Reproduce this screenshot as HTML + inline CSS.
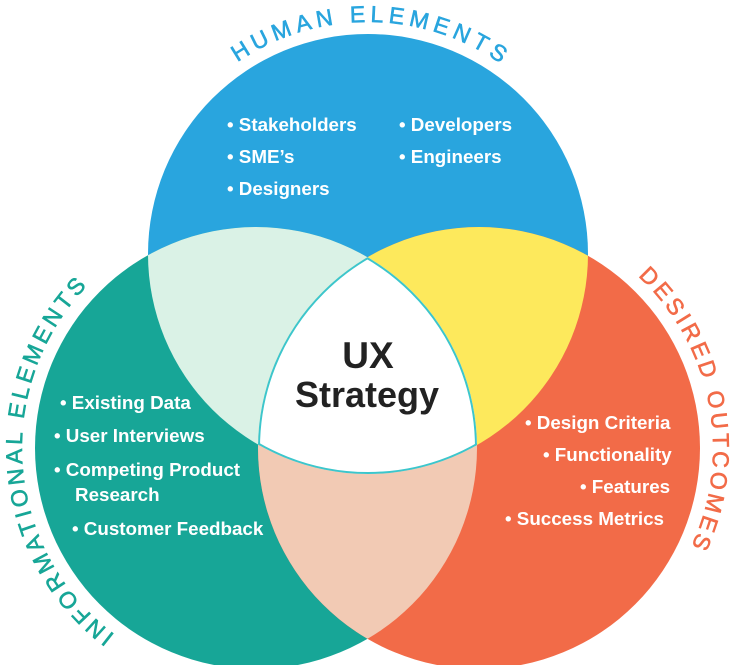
<!DOCTYPE html>
<html><head><meta charset="utf-8"><style>
html,body{margin:0;padding:0;background:#fff;}
svg{display:block;}
.b{font-family:"Liberation Sans",sans-serif;font-weight:bold;font-size:18.8px;fill:#fff;}
.arc{font-family:"Liberation Sans",sans-serif;font-size:23px;letter-spacing:5px;stroke-width:0.6px;}
</style></head><body>
<svg width="735" height="665" viewBox="0 0 735 665" xmlns="http://www.w3.org/2000/svg">
<defs>
<clipPath id="cT"><circle cx="368" cy="254" r="220"/></clipPath>
<clipPath id="cL"><circle cx="256" cy="448" r="221"/></clipPath>
<clipPath id="cR"><circle cx="479" cy="448" r="221"/></clipPath>
<path id="pT" d="M136,254 A232,232 0 0 1 600,254"/>
<path id="pL" d="M256,682 A234,234 0 0 1 256,214"/>
<path id="pR" d="M479,214 A234,234 0 0 1 479,682"/>
</defs>
<circle cx="368" cy="254" r="220" fill="#29a5de"/>
<circle cx="256" cy="448" r="221" fill="#17a697"/>
<circle cx="479" cy="448" r="221" fill="#f26b48"/>
<g clip-path="url(#cT)"><circle cx="256" cy="448" r="221" fill="#daf2e6"/></g>
<g clip-path="url(#cT)"><circle cx="479" cy="448" r="221" fill="#fde95c"/></g>
<g clip-path="url(#cL)"><circle cx="479" cy="448" r="221" fill="#f2cab4"/></g>
<g clip-path="url(#cT)"><g clip-path="url(#cL)"><g clip-path="url(#cR)">
<circle cx="368" cy="254" r="220" fill="#fff" stroke="#3cc6cc" stroke-width="4"/>
<circle cx="256" cy="448" r="221" fill="none" stroke="#3cc6cc" stroke-width="4"/>
<circle cx="479" cy="448" r="221" fill="none" stroke="#3cc6cc" stroke-width="4"/>
</g></g></g>

<text class="arc" fill="#29a5de" stroke="#29a5de"><textPath href="#pT" startOffset="50.5%" text-anchor="middle">HUMAN ELEMENTS</textPath></text>
<text class="arc" fill="#17a697" stroke="#17a697" style="letter-spacing:3.7px"><textPath href="#pL" startOffset="47.7%" text-anchor="middle">INFORMATIONAL ELEMENTS</textPath></text>
<text class="arc" fill="#f26b48" stroke="#f26b48" style="letter-spacing:3.5px"><textPath href="#pR" startOffset="44%" text-anchor="middle">DESIRED OUTCOMES</textPath></text>

<g class="b">
<text x="227" y="131">• Stakeholders</text>
<text x="227" y="163">• SME’s</text>
<text x="227" y="195">• Designers</text>
<text x="399" y="131">• Developers</text>
<text x="399" y="163">• Engineers</text>
<text x="60" y="409">• Existing Data</text>
<text x="54" y="442">• User Interviews</text>
<text x="54" y="476">• Competing Product</text>
<text x="75" y="501">Research</text>
<text x="72" y="535">• Customer Feedback</text>
<text x="525" y="429">• Design Criteria</text>
<text x="543" y="461">• Functionality</text>
<text x="580" y="493">• Features</text>
<text x="505" y="525">• Success Metrics</text>
</g>
<g font-family="Liberation Sans,sans-serif" font-weight="bold" fill="#222" text-anchor="middle">
<text x="368" y="368" font-size="37">UX</text>
<text x="367" y="407" font-size="36">Strategy</text>
</g>
</svg>
</body></html>
